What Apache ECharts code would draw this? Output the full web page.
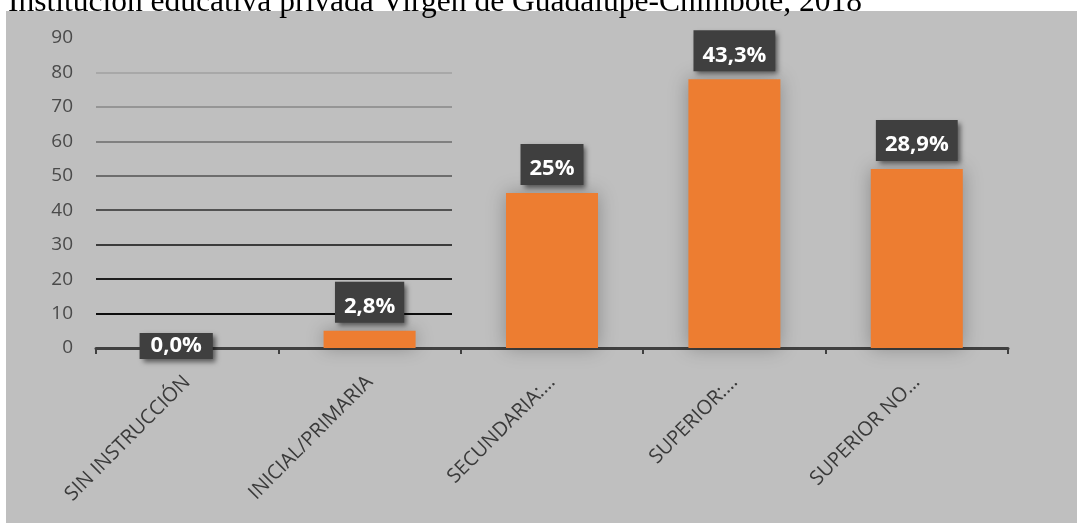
<!DOCTYPE html>
<html>
<head>
<meta charset="utf-8">
<script src="https://cdn.jsdelivr.net/npm/echarts@6/dist/echarts.min.js"></script>
<style>
  html, body { margin: 0; padding: 0; background: #ffffff; }
  #chart { width: 1077px; height: 523px; }
</style>
</head>
<body>
<div id="chart"></div>
<script>
// datos
const categories = ['SIN INSTRUCCIÓN', 'INICIAL/PRIMARIA', 'SECUNDARIA:…', 'SUPERIOR:…', 'SUPERIOR NO…'];
const counts = [0, 5, 45, 78, 52];
const percentLabels = ['0,0%', '2,8%', '25%', '43,3%', '28,9%'];
const yTicks = [0, 10, 20, 30, 40, 50, 60, 70, 80, 90];

const titleText = 'Institución educativa privada Virgen de Guadalupe-Chimbote, 2018';

// colores de las lineas de division (de 0 a 90), degradado oscuro -> claro
const gridColors = ['rgba(0,0,0,0)', '#0d0d0d', '#1e1e1e', '#3b3b3b', '#525252',
                    '#6d6d6d', '#808080', '#959595', '#a8a8a8', 'rgba(0,0,0,0)'];

const chart = echarts.init(document.getElementById('chart'));

const labelBase = {
  show: true,
  position: 'top',
  distance: 8,
  color: '#ffffff',
  fontFamily: 'Open Sans',
  fontWeight: 'bold',
  fontSize: 22,
  lineHeight: 24,
  backgroundColor: '#3f3f3f',
  padding: [13, 9, 4, 9],
  shadowColor: 'rgba(0,0,0,0.55)',
  shadowBlur: 5,
  shadowOffsetX: 3,
  shadowOffsetY: 3,
  formatter: p => percentLabels[p.dataIndex]
};

const barData = counts.map((v, i) => {
  if (v === 0) {
    return {
      value: v,
      label: { position: 'inside', offset: [-11, -2], padding: [4, 11, 0, 11], lineHeight: 22 }
    };
  }
  return v;
});

chart.setOption({
  animation: false,
  graphic: [
    {
      type: 'rect', z: -10, silent: true,
      shape: { x: 6, y: 11, width: 1071, height: 512 },
      style: { fill: '#bfbfbf' }
    },
    {
      type: 'text', z: 100, silent: true,
      style: {
        text: titleText, x: 8, y: 3, verticalAlign: 'middle',
        font: '31.5px "Liberation Serif"', fill: '#000000'
      }
    }
  ],
  grid: [
    { left: 96, right: 69, top: 38, bottom: 175 },
    { left: 96, width: 356, top: 38, bottom: 175 }
  ],
  xAxis: [
    {
      type: 'category',
      gridIndex: 0,
      data: categories,
      axisLine: { lineStyle: { color: '#404040', width: 3 } },
      axisTick: { show: true, length: 6, lineStyle: { color: '#404040', width: 2 } },
      axisLabel: {
        rotate: 45, margin: 31, interval: 0,
        color: '#3a3a3a', fontFamily: 'Open Sans', fontSize: 20
      }
    },
    { type: 'value', gridIndex: 1, show: false, min: 0, max: 1 }
  ],
  yAxis: [
    {
      type: 'value',
      gridIndex: 0,
      min: 0, max: 90, interval: 10,
      axisLine: { show: false },
      axisTick: { show: false },
      splitLine: { show: false },
      axisLabel: {
        margin: 23, color: '#4a4a4a', fontFamily: 'Open Sans', fontSize: 19,
        formatter: v => (yTicks.includes(v) ? String(v) : '')
      }
    },
    {
      type: 'value',
      gridIndex: 1,
      min: 0, max: 90, interval: 10,
      axisLine: { show: false },
      axisTick: { show: false },
      axisLabel: { show: false },
      splitLine: { show: true, lineStyle: { color: gridColors, width: 2 } }
    }
  ],
  series: [
    {
      type: 'bar',
      xAxisIndex: 0,
      yAxisIndex: 0,
      data: barData,
      barWidth: 92,
      z: 5,
      itemStyle: {
        color: '#ed7d31',
        shadowColor: 'rgba(0,0,0,0.28)',
        shadowBlur: 18
      },
      label: labelBase
    }
  ]
});
</script>
</body>
</html>
